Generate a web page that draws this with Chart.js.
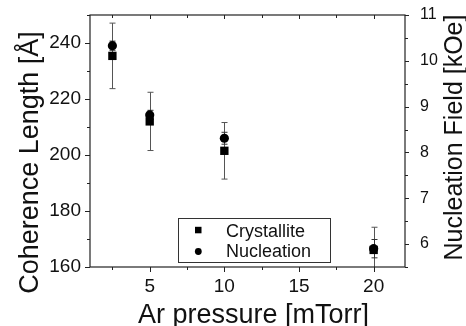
<!DOCTYPE html>
<html><head><meta charset="utf-8">
<script src="https://cdn.jsdelivr.net/npm/chart.js@4.4.0/dist/chart.umd.min.js"></script>
<style>html,body{margin:0;padding:0;background:#fff;overflow:hidden}#wrap{width:466px;height:326px;position:relative}</style>
</head><body><div id="wrap"><canvas id="c" width="466" height="326"></canvas></div>
<script>
// ---- data ----
const pressures = [2.5, 5, 10, 20];
const crystallite = [235.4, 212.0, 201.5, 166.1];
const crystalliteErr = [11.7, 10.4, 10.1, 8.1];
const nucleation = [10.33, 8.82, 8.31, 5.9];
const nucleationErr = [0.1, 0.1, 0.13, 0.2];
const xTicks = [5, 10, 15, 20];
const yLeftTicks = [160, 180, 200, 220, 240];
const yRightTicks = [6, 7, 8, 9, 10, 11];
const seriesLabels = ['Crystallite', 'Nucleation'];
const xTitle = 'Ar pressure [mTorr]';
const yLeftTitle = 'Coherence Length [Å]';
const yRightTitle = 'Nucleation Field [kOe]';

const FONT = '"Liberation Sans", Arial, Helvetica, sans-serif';
Chart.defaults.font.family = FONT;
const INK = '#111';

function zeroPad(s){ s.paddingTop = 0; s.paddingBottom = 0; s.paddingLeft = 0; s.paddingRight = 0; }
function setTicks(arr){ return s => { s.ticks = arr.map(v => ({value: v})); }; }
function minorValues(major, min, max){
  const half = (major[1] - major[0]) / 2;
  const out = [];
  for (let v = Math.ceil(min / half - 1e-9) * half; v <= max + 1e-9; v += half) {
    if (!major.some(m => Math.abs(m - v) < 1e-9)) out.push(v);
  }
  return out;
}

const errorBars = [
  {dataset: 0, errs: crystalliteErr, color: '#555'},
  {dataset: 1, errs: nucleationErr, color: '#333'}
];

const decor = {
  id: 'decor',
  beforeDatasetsDraw(chart){
    const ctx = chart.ctx, a = chart.chartArea;
    ctx.save();
    ctx.beginPath(); ctx.rect(a.left, a.top, a.right - a.left, a.bottom - a.top); ctx.clip();
    errorBars.forEach(eb => {
      const meta = chart.getDatasetMeta(eb.dataset);
      const scale = chart.scales[meta.yAxisID];
      const ds = chart.data.datasets[eb.dataset];
      meta.data.forEach((pt, i) => {
        const v = ds.data[i].y, e = eb.errs[i];
        const yt = scale.getPixelForValue(v + e), yb = scale.getPixelForValue(v - e);
        const x = Math.round(pt.x) + 0.5;
        ctx.strokeStyle = eb.color; ctx.lineWidth = 1;
        ctx.beginPath();
        ctx.moveTo(x, yt); ctx.lineTo(x, yb);
        ctx.moveTo(x - 3, yt); ctx.lineTo(x + 3, yt);
        ctx.moveTo(x - 3, yb); ctx.lineTo(x + 3, yb);
        ctx.stroke();
      });
    });
    ctx.restore();
  },
  afterDraw(chart){
    const ctx = chart.ctx, a = chart.chartArea;
    const sx = chart.scales.x, sy = chart.scales.y, sr = chart.scales.y1;
    ctx.save();
    ctx.strokeStyle = '#222'; ctx.lineWidth = 1.2;
    ctx.strokeRect(a.left, a.top, a.right - a.left, a.bottom - a.top);
    ctx.lineWidth = 1;
    ctx.beginPath();
    const xMin = minorValues(xTicks, sx.min, sx.max);
    xTicks.forEach(v => { const p = Math.round(sx.getPixelForValue(v)) + 0.5;
      ctx.moveTo(p, a.bottom); ctx.lineTo(p, a.bottom + 5);
      ctx.moveTo(p, a.top); ctx.lineTo(p, a.top + 4); });
    xMin.forEach(v => { const p = Math.round(sx.getPixelForValue(v)) + 0.5;
      ctx.moveTo(p, a.bottom); ctx.lineTo(p, a.bottom + 3);
      ctx.moveTo(p, a.top); ctx.lineTo(p, a.top + 3); });
    yLeftTicks.forEach(v => { const p = Math.round(sy.getPixelForValue(v)) + 0.5;
      ctx.moveTo(a.left, p); ctx.lineTo(a.left - 5, p); });
    minorValues(yLeftTicks, sy.min, sy.max).forEach(v => { const p = Math.round(sy.getPixelForValue(v)) + 0.5;
      ctx.moveTo(a.left, p); ctx.lineTo(a.left - 3, p); });
    yRightTicks.forEach(v => { const p = Math.round(sr.getPixelForValue(v)) + 0.5;
      ctx.moveTo(a.right, p); ctx.lineTo(a.right + 4, p); });
    minorValues(yRightTicks, sr.min, sr.max).forEach(v => { const p = Math.round(sr.getPixelForValue(v)) + 0.5;
      ctx.moveTo(a.right, p); ctx.lineTo(a.right + 3, p); });
    ctx.stroke();

    // axis titles
    ctx.fillStyle = INK; ctx.textBaseline = 'alphabetic'; ctx.textAlign = 'center';
    ctx.font = '27px ' + FONT;
    ctx.fillText(xTitle, 253.5, 323);
    ctx.save(); ctx.translate(38, 162.5); ctx.rotate(-Math.PI / 2); ctx.fillText(yLeftTitle, 0, 0); ctx.restore();
    ctx.font = '25px ' + FONT;
    ctx.save(); ctx.translate(462, 137.5); ctx.rotate(-Math.PI / 2); ctx.fillText(yRightTitle, 0, 0); ctx.restore();

    // legend
    ctx.strokeStyle = '#333'; ctx.lineWidth = 1;
    ctx.strokeRect(178.5, 218.5, 152, 44);
    ctx.fillStyle = '#000';
    ctx.fillRect(195, 226.8, 6.5, 6.5);
    ctx.beginPath(); ctx.arc(198.3, 251.5, 3.4, 0, Math.PI * 2); ctx.fill();
    ctx.fillStyle = INK; ctx.textAlign = 'left'; ctx.font = '18px ' + FONT;
    ctx.fillText(chart.data.datasets[0].label, 226, 236.5);
    ctx.fillText(chart.data.datasets[1].label, 226, 256.5);
    ctx.restore();
  }
};

new Chart(document.getElementById('c'), {
  type: 'scatter',
  data: {
    datasets: [
      {label: seriesLabels[0], data: pressures.map((x, i) => ({x, y: crystallite[i]})), yAxisID: 'y',
       pointStyle: 'rect', pointRadius: 5.9, backgroundColor: '#000', borderColor: '#000', borderWidth: 0},
      {label: seriesLabels[1], data: pressures.map((x, i) => ({x, y: nucleation[i]})), yAxisID: 'y1',
       pointStyle: 'circle', pointRadius: 4.6, backgroundColor: '#000', borderColor: '#000', borderWidth: 0}
    ]
  },
  options: {
    responsive: false, animation: false, devicePixelRatio: 1,
    layout: {padding: {top: 15, left: 0, right: 0, bottom: 0}},
    plugins: {legend: {display: false}, tooltip: {enabled: false}},
    scales: {
      x: {type: 'linear', min: 1, max: 22.1, afterBuildTicks: setTicks(xTicks),
          grid: {display: false, drawTicks: false}, border: {display: false},
          ticks: {font: {size: 19}, color: INK, padding: 8, maxRotation: 0, autoSkip: false},
          afterFit: s => { s.height = 59; zeroPad(s); }},
      y: {type: 'linear', position: 'left', min: 160, max: 250, afterBuildTicks: setTicks(yLeftTicks),
          grid: {display: false, drawTicks: false}, border: {display: false},
          ticks: {font: {size: 19}, color: INK, padding: 9},
          afterFit: s => { s.width = 90; zeroPad(s); }},
      y1: {type: 'linear', position: 'right', min: 5.5, max: 11, afterBuildTicks: setTicks(yRightTicks),
          grid: {display: false, drawTicks: false}, border: {display: false},
          ticks: {font: {size: 16}, color: INK, padding: 15},
          afterFit: s => { s.width = 61; zeroPad(s); }}
    }
  },
  plugins: [decor]
});
</script></body></html>
